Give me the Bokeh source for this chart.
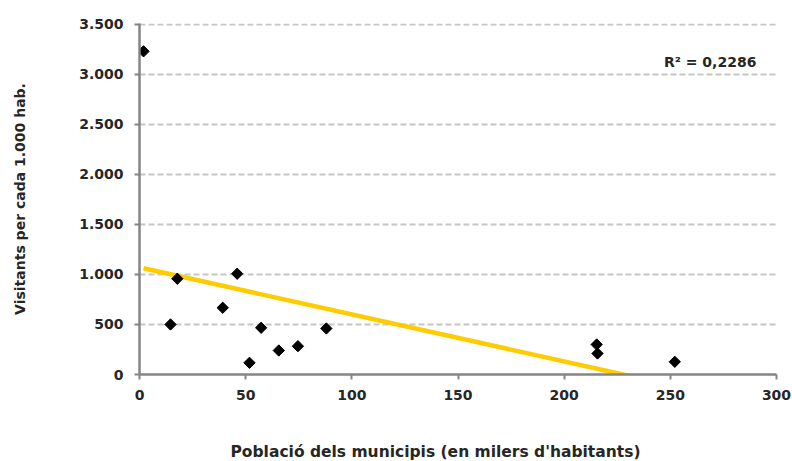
import numpy as np
from bokeh.plotting import figure
from bokeh.models import Range1d, FixedTicker, Label, Title
from bokeh.embed import file_html
from bokeh.resources import INLINE

# Data
poblacio = [1.9, 14.6, 17.8, 39.2, 46.0, 51.8, 57.3, 65.6, 74.6, 88.0, 215.3, 215.7, 252.1]
visitants = [3230, 500, 957, 667, 1007, 117, 467, 240, 283, 460, 300, 210, 127]

x_ticks = [0, 50, 100, 150, 200, 250, 300]
x_tick_labels = ["0", "50", "100", "150", "200", "250", "300"]
y_ticks = [0, 500, 1000, 1500, 2000, 2500, 3000, 3500]
y_tick_labels = ["0", "500", "1.000", "1.500", "2.000", "2.500", "3.000", "3.500"]

x_title = "Població dels municipis (en milers d'habitants)"
y_title = "Visitants per cada 1.000 hab."
r2_text = "R² = 0,2286"

FONT = "DejaVu Sans"
TXT = "#262626"
FS = "14px"

p = figure(width=792, height=461, output_backend="svg", toolbar_location=None,
           x_range=Range1d(0, 300), y_range=Range1d(0, 3508),
           min_border_left=139, min_border_right=16, min_border_top=23, min_border_bottom=87)
p.outline_line_color = None
p.background_fill_color = "white"
p.border_fill_color = "white"

# grid
p.xgrid.grid_line_color = None
p.ygrid.ticker = FixedTicker(ticks=y_ticks)
p.ygrid.grid_line_color = "#c6c6c6"
p.ygrid.grid_line_width = 2
p.ygrid.grid_line_dash = "6 3"

# axes
for ax, ticks, labels in ((p.xaxis, x_ticks, x_tick_labels), (p.yaxis, y_ticks, y_tick_labels)):
    ax.ticker = FixedTicker(ticks=ticks)
    ax.major_label_overrides = {t: l for t, l in zip(ticks, labels)}
    ax.axis_line_color = "#858585"
    ax.axis_line_width = 2.5
    ax.major_tick_line_color = "#858585"
    ax.major_tick_line_width = 2
    ax.major_tick_out = 5
    ax.major_tick_in = 0
    ax.minor_tick_line_color = None
    ax.major_label_text_font = FONT
    ax.major_label_text_font_style = "bold"
    ax.major_label_text_font_size = FS
    ax.major_label_text_color = TXT

p.xaxis.major_label_standoff = 10
p.yaxis.major_label_standoff = 11

p.yaxis.axis_label = y_title
p.yaxis.axis_label_text_font = FONT
p.yaxis.axis_label_text_font_style = "bold"
p.yaxis.axis_label_text_font_size = FS
p.yaxis.axis_label_text_color = TXT
p.yaxis.axis_label_standoff = 48

# blank x-axis label only reserves the vertical gap above the title
p.xaxis.axis_label = " "
p.xaxis.axis_label_text_font = FONT
p.xaxis.axis_label_text_font_size = FS
p.xaxis.axis_label_standoff = 18

# x-axis title as a "below" title, aligned like the original
p.add_layout(Title(text=x_title, align="left", offset=91, standoff=2,
                   text_font=FONT, text_font_style="bold", text_font_size="15.5px",
                   text_color=TXT), "below")

# trend line (least squares fit of the data)
xs = np.array(poblacio)
ys = np.array(visitants)
slope, intercept = np.polyfit(xs, ys, 1)
tx = np.array([xs.min(), xs.max()])
p.line(tx, intercept + slope * tx, line_color="#FFCC00", line_width=4.5)

# points (diamonds)
p.scatter(poblacio, visitants, marker="square", angle=np.pi / 4, size=8,
          fill_color="black", line_color="black")

# R² label
p.add_layout(Label(x=247, y=3120, text=r2_text, text_font=FONT, text_font_style="bold",
                   text_font_size=FS, text_color=TXT, text_baseline="middle", text_align="left"))

open("out.html", "w").write(file_html(p, INLINE))
